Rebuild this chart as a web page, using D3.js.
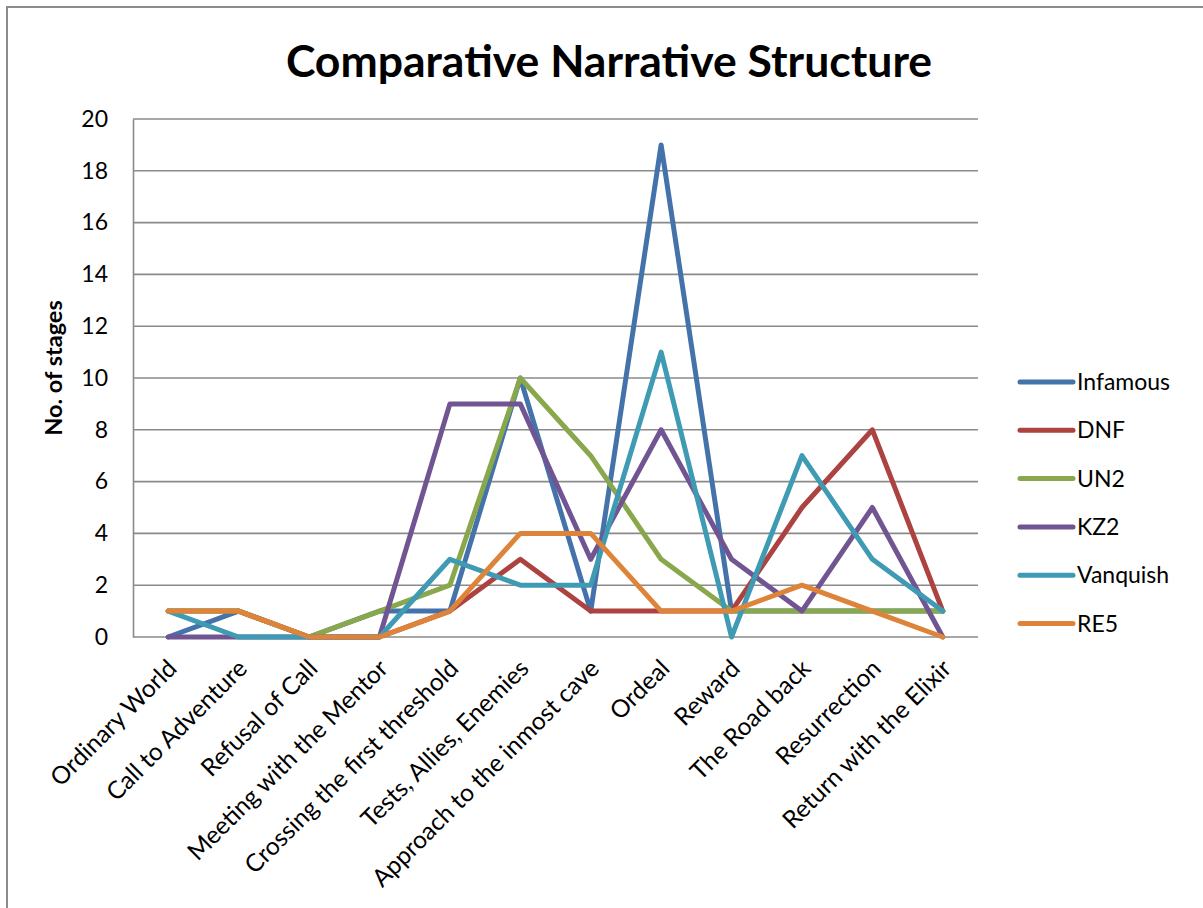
<!DOCTYPE html>
<html>
<head>
<meta charset="utf-8">
<script src="https://cdn.jsdelivr.net/npm/d3@7"></script>
<style>
  html, body { margin: 0; padding: 0; background: #fff; }
  svg { display: block; font-family: Lato, "Open Sans", sans-serif; }
</style>
</head>
<body>
<svg id="chart" width="1203" height="908"></svg>
<script>
// Hero's journey stages along the x axis
const stages = [
  "Ordinary World", "Call to Adventure", "Refusal of Call", "Meeting with the Mentor",
  "Crossing the first threshold", "Tests, Allies, Enemies", "Approach to the inmost cave",
  "Ordeal", "Reward", "The Road back", "Resurrection", "Return with the Elixir"
];

// Number of stages per game
const infamous = [0, 1, 0, 1, 1, 10, 1, 19, 1, 1, 1, 1];
const dnf      = [1, 1, 0, 0, 1, 3, 1, 1, 1, 5, 8, 1];
const un2      = [1, 1, 0, 1, 2, 10, 7, 3, 1, 1, 1, 1];
const kz2      = [0, 0, 0, 0, 9, 9, 3, 8, 3, 1, 5, 0];
const vanquish = [1, 0, 0, 0, 3, 2, 2, 11, 0, 7, 3, 1];
const re5      = [1, 1, 0, 0, 1, 4, 4, 1, 1, 2, 1, 0];

const seriesNames = ["Infamous", "DNF", "UN2", "KZ2", "Vanquish", "RE5"];
const seriesColors = ["#4472AA", "#AC4340", "#89A84C", "#705592", "#3F9AB3", "#DE843A"];
const yTicks = [0, 2, 4, 6, 8, 10, 12, 14, 16, 18, 20];

const series = [infamous, dnf, un2, kz2, vanquish, re5].map((values, i) => ({
  name: seriesNames[i], color: seriesColors[i], values
}));

const svg = d3.select("#chart");

// outer chart frame (runs off the right/bottom edges)
svg.append("rect")
  .attr("x", 7).attr("y", 7).attr("width", 1300).attr("height", 1000)
  .attr("fill", "none").attr("stroke", "#8c8c8c").attr("stroke-width", 2);

const plot = { left: 133, right: 978, top: 119, bottom: 637 };

const x = d3.scaleBand().domain(stages).range([plot.left, plot.right]).padding(0);
const y = d3.scaleLinear().domain([0, 20]).range([plot.bottom, plot.top]);

// horizontal gridlines
svg.append("g")
  .selectAll("line")
  .data(yTicks.filter(d => d > 0))
  .join("line")
  .attr("x1", plot.left).attr("x2", plot.right)
  .attr("y1", d => y(d)).attr("y2", d => y(d))
  .attr("stroke", "#8a8a8a").attr("stroke-width", 1.6);

// y axis
const yAxis = svg.append("g")
  .attr("transform", `translate(${plot.left},0)`)
  .call(d3.axisLeft(y).tickValues(yTicks).tickSize(0).tickPadding(25));
yAxis.select(".domain").attr("stroke", "#8a8a8a").attr("stroke-width", 1.6);
yAxis.selectAll("text")
  .attr("font-size", 23).attr("fill", "#000")
  .attr("font-family", "Lato, sans-serif");

// x axis baseline
svg.append("line")
  .attr("x1", plot.left).attr("x2", plot.right)
  .attr("y1", plot.bottom).attr("y2", plot.bottom)
  .attr("stroke", "#8a8a8a").attr("stroke-width", 1.6);

// rotated category labels
svg.append("g")
  .selectAll("text")
  .data(stages)
  .join("text")
  .attr("transform", d => `translate(${x(d) + x.bandwidth() / 2 + 10},${plot.bottom + 33}) rotate(-45)`)
  .attr("text-anchor", "end")
  .attr("font-size", 24.5)
  .attr("fill", "#000")
  .text(d => d);

// series lines
const line = d3.line()
  .x((d, i) => x(stages[i]) + x.bandwidth() / 2)
  .y(d => y(d));

svg.append("g")
  .selectAll("path")
  .data(series)
  .join("path")
  .attr("d", d => line(d.values))
  .attr("fill", "none")
  .attr("stroke", d => d.color)
  .attr("stroke-width", 5)
  .attr("stroke-linejoin", "round")
  .attr("stroke-linecap", "round");

// title
svg.append("text")
  .attr("x", 609).attr("y", 77)
  .attr("text-anchor", "middle")
  .attr("font-size", 44.5)
  .attr("font-weight", "bold")
  .attr("fill", "#000")
  .text("Comparative Narrative Structure");

// y axis title
svg.append("text")
  .attr("transform", "translate(62,368) rotate(-90)")
  .attr("text-anchor", "middle")
  .attr("font-size", 23.5)
  .attr("font-weight", "bold")
  .attr("fill", "#000")
  .text("No. of stages");

// legend
const legend = svg.append("g")
  .selectAll("g")
  .data(series)
  .join("g")
  .attr("transform", (d, i) => `translate(1020,${382 + i * 48.3})`);
legend.append("line")
  .attr("x1", 0).attr("x2", 53)
  .attr("stroke", d => d.color)
  .attr("stroke-width", 5)
  .attr("stroke-linecap", "round");
legend.append("text")
  .attr("x", 57).attr("dy", "0.35em")
  .attr("font-size", 23)
  .attr("fill", "#000")
  .text(d => d.name);
</script>
</body>
</html>
